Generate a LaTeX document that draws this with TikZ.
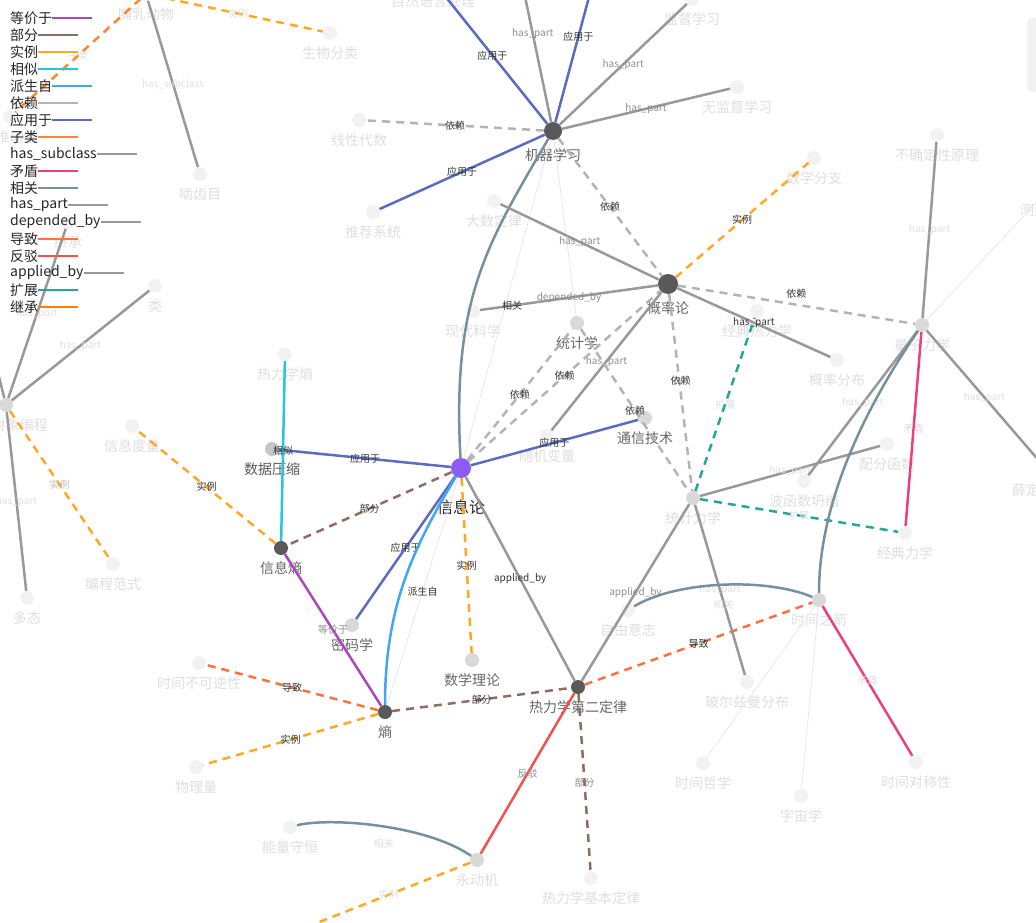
\documentclass[tikz,border=0pt]{standalone}
\usepackage{fontspec}
\setmainfont{Noto Sans CJK SC}

\definecolor{cEquiv}{HTML}{AB47BC}
\definecolor{cPart}{HTML}{8D6E63}
\definecolor{cInst}{HTML}{FFA726}
\definecolor{cSim}{HTML}{26C6DA}
\definecolor{cDeriv}{HTML}{42A5F5}
\definecolor{cDep}{HTML}{B4B4B4}
\definecolor{cApp}{HTML}{5C6BC0}
\definecolor{cSub}{HTML}{FF8533}
\definecolor{cGray}{HTML}{999999}
\definecolor{cContra}{HTML}{EC407A}
\definecolor{cRel}{HTML}{78909C}
\definecolor{cCause}{HTML}{FF7043}
\definecolor{cRefute}{HTML}{EF5350}
\definecolor{cExt}{HTML}{26A69A}
\definecolor{cInher}{HTML}{FF7F0E}
\definecolor{cFaint}{HTML}{E6E6F2}
\definecolor{cHub}{HTML}{595959}
\definecolor{cInfo}{HTML}{8B5CF6}
\definecolor{cLight}{HTML}{D9D9D9}
\definecolor{cFade}{HTML}{F2F2F2}
\definecolor{cFadeText}{HTML}{DEDEDE}
\definecolor{cNodeText}{HTML}{666666}
\definecolor{cEdgeText}{HTML}{333333}

\begin{document}
\begin{tikzpicture}[x=1pt, y=-1pt,
    every node/.style={inner sep=0pt},
    label distance=6pt,
    hub/.style={circle, fill=cHub, minimum size=14pt},
    mid/.style={circle, fill=cLight, minimum size=14pt},
    fade/.style={circle, fill=cFade, minimum size=14pt},
    nl/.style={font=\fontsize{14}{16}\selectfont, text=cNodeText},
    nlf/.style={font=\fontsize{14}{16}\selectfont, text=cFadeText},
    legtext/.style={anchor=west, font=\fontsize{14}{16}\selectfont, text=black!85},
    rline/.style={line width=2.5pt},
    rdash/.style={rline, dash pattern=on 8pt off 6pt},
    rEquiv/.style={rline, cEquiv},
    rPart/.style={rdash, cPart},
    rInst/.style={rdash, cInst},
    rSim/.style={rline, cSim},
    rDeriv/.style={rline, cDeriv},
    rDep/.style={rdash, cDep},
    rApp/.style={rline, cApp},
    rSub/.style={rdash, cSub},
    rGray/.style={rline, cGray},
    rContra/.style={rline, cContra},
    rRel/.style={rline, cRel},
    rCause/.style={rdash, cCause},
    rRefute/.style={rline, cRefute},
    rExt/.style={rdash, cExt},
    rFaint/.style={line width=0.8pt, cFaint},
    el/.style={font=\fontsize{10}{12}\selectfont, text=cEdgeText},
    elm/.style={font=\fontsize{10}{12}\selectfont, text=black!45},
    elf/.style={font=\fontsize{10}{12}\selectfont, text=cFadeText}]

  \useasboundingbox (0,0) rectangle (1036,923);
  \clip (0,0) rectangle (1036,923);
  \fill[cFade, rounded corners=6pt] (1027,18) rectangle (1060,92);

  % main nodes
  \node[circle, fill=cInfo, minimum size=20pt,
    label={[font=\fontsize{16}{18}\selectfont, text=black!85, label distance=21pt]below:信息论}] (xinxi) at (461,468) {};
  \node[hub, minimum size=18pt, label={[nl, label distance=8pt]below:机器学习}] (jiqi) at (553,131) {};
  \node[hub, minimum size=20pt, label={[nl, label distance=7pt]below:概率论}] (gailv) at (668,284) {};
  \node[hub, label={[nl]below:信息熵}] (xxshang) at (281,548) {};
  \node[hub, label={[nl]below:熵}] (shang) at (385,712) {};
  \node[hub, label={[nl]below:热力学第二定律}] (rele2) at (578,687) {};

  \node[mid, label={[nl]below:统计学}] (tongji) at (577,323) {};
  \node[mid, label={[nl]below:通信技术}] (tongxin) at (645,418) {};
  \node[mid, fill=black!22, label={[nl, text=black!65]below:数据压缩}] (shuju) at (272,449) {};
  \node[mid, label={[nl]below:密码学}] (mima) at (352,625) {};
  \node[mid, label={[nl]below:数学理论}] (shuxue) at (472,660) {};
  \node[mid, label={[nlf]below:统计力学}] (tongjili) at (693,498) {};
  \node[mid, label={[nlf]below:量子力学}] (liangzi) at (922,325) {};
  \node[mid, label={[nlf]below:时间之箭}] (shijian) at (819,600) {};
  \node[mid, label={[nlf]below:永动机}] (yongdong) at (477,860) {};
  \node[mid, label={[nlf]below:面向对象编程}] (mianxiang) at (6,405) {};

  % faded nodes
  \node[fade, label={[nlf]below:随机变量}] (suiji) at (547,436) {};
  \node[fade, label={[nlf]below:哺乳动物}] (buru) at (146,-6) {};
  \node[fade, label={[nlf]below:生物分类}] (shengwu) at (330,33) {};
  \node[fade, label={[nlf]below:啮齿目}] (niechi) at (200,174) {};
  \node[fade, label={[nlf]below:脊椎动物}] (jizhui) at (10,117) {};
  \node[fade, label={[nlf]below:线性代数}] (xianxing) at (359,120) {};
  \node[fade, label={[nlf]below:推荐系统}] (tuijian) at (373,212) {};
  \node[fade, label={[nlf]below:大数定律}] (dashu) at (494,201) {};
  \node[fade, label={[nlf]below:无监督学习}] (wujiandu) at (737,87) {};
  \node[fade, label={[nlf]below:监督学习}] (jiandu) at (692,-1) {};
  \node[fade, label={[nlf]below:自然语言处理}] (ziran) at (433,-19) {};
  \node[fade] (offA) at (513,-61) {};
  \node[fade] (offB) at (603,-55) {};
  \node[fade, label={[nlf]below:数学分支}] (shuxuefz) at (814,158) {};
  \node[fade, label={[nlf]below:不确定性原理}] (buqueding) at (937,135) {};
  \node[fade, label={[nlf]below:测量问题}] (celiang) at (1048,190) {};
  \node[fade, label={[nlf]below:现代科学}] (xiandai) at (473,311) {};
  \node[fade, label={[nlf]below:经典热力学}] (jingdianre) at (757,311) {};
  \node[fade, label={[nlf]below:概率分布}] (gailvfb) at (837,360) {};
  \node[fade, label={[nlf]below:配分函数}] (peifen) at (887,444) {};
  \node[fade, label={[nlf]below:波函数坍缩}] (bohanshu) at (804,481) {};
  \node[fade, label={[nlf]below:经典力学}] (jingdianli) at (905,533) {};
  \node[fade, label={[nlf]below:薛定谔方程}] (xueding) at (1047,470) {};
  \node[fade, label={[nlf]below:玻尔兹曼分布}] (boerzi) at (747,682) {};
  \node[fade, label={[nlf]below:自由意志}] (ziyou) at (628,610) {};
  \node[fade, label={[nlf]below:时间哲学}] (zhexue) at (703,763) {};
  \node[fade, label={[nlf]below:宇宙学}] (yuzhou) at (801,796) {};
  \node[fade, label={[nlf]below:时间对称性}] (duichen) at (916,762) {};
  \node[fade, label={[nlf]below:热力学基本定律}] (relijiben) at (591,878) {};
  \node[fade, label={[nlf]below:能量守恒}] (nengliang) at (290,827) {};
  \node[fade] (offC) at (299,930) {};
  \node[fade, label={[nlf]below:物理量}] (wuli) at (196,767) {};
  \node[fade, label={[nlf]below:时间不可逆性}] (bukeni) at (199,663) {};
  \node[fade, label={[nlf]below:信息度量}] (xinxidu) at (132,426) {};
  \node[fade, label={[nlf]below:热力学熵}] (reshang) at (285,354) {};
  \node[fade, label={[nlf]below:类}] (lei) at (155,286) {};
  \node[fade, label={[nlf]below:继承}] (jicheng) at (68,222) {};
  \node[fade, label={[nlf]below:多态}] (duotai) at (27,598) {};
  \node[fade, label={[nlf]below:编程范式}] (fanshi) at (113,564) {};
  \node[fade] (offD) at (-20,300) {};

  % faint links
  \draw[rFaint] (jiqi) -- (xinxi);
  \draw[rFaint] (jiqi) -- (tongji);
  \draw[rFaint] (xinxi) -- (shang);
  \draw[rFaint] (liangzi) -- (celiang);
  \draw[rFaint] (shijian) -- (zhexue);
  \draw[rFaint] (shijian) -- (yuzhou);

  % 机器学习
  \draw[rApp] (jiqi) -- node[el]{应用于} (ziran);
  \draw[rGray] (jiqi) -- node[elm]{has\_part} (offA);
  \draw[rApp] (jiqi) -- node[el]{应用于} (offB);
  \draw[rGray] (jiqi) -- node[elm]{has\_part} (jiandu);
  \draw[rGray] (jiqi) -- node[elm]{has\_part} (wujiandu);
  \draw[rDep] (jiqi) -- node[el]{依赖} (xianxing);
  \draw[rApp] (jiqi) -- node[el]{应用于} (tuijian);
  \draw[rDep] (jiqi) -- node[el]{依赖} (gailv);
  \draw[rRel] (xinxi) .. controls +(-9,-168) and +(-67,114) .. (jiqi);

  % 概率论
  \draw[rGray] (gailv) -- node[elm]{has\_part} (dashu);
  \draw[rGray] (gailv) -- node[elm]{depended\_by} node[el, pos=0.82]{相关} (xiandai);
  \draw[rGray] (gailv) -- node[elm]{has\_part} (suiji);
  \draw[rGray] (gailv) -- node[el]{has\_part} (gailvfb);
  \draw[rDep] (gailv) -- node[el, yshift=11pt]{依赖} (liangzi);
  \draw[rInst] (gailv) -- node[el]{实例} (shuxuefz);
  \draw[rDep] (gailv) -- node[el, yshift=12pt]{依赖} (tongjili);
  \draw[rDep] (tongji) -- node[el]{依赖} (tongjili);

  % 信息论
  \draw[rDep] (xinxi) -- node[el]{依赖} (tongji);
  \draw[rDep] (xinxi) -- node[el]{依赖} (gailv);
  \draw[rApp] (xinxi) -- node[el]{应用于} (shuju);
  \draw[rApp] (xinxi) -- node[el]{应用于} (tongxin);
  \draw[rPart] (xinxi) -- node[el]{部分} (xxshang);
  \draw[rApp] (xinxi) -- node[el]{应用于} (mima);
  \draw[rDeriv] (xinxi) .. controls +(-45,76) and +(0,-110) .. (shang);
  \path (xinxi) -- node[el]{派生自} (shang);
  \draw[rInst] (xinxi) -- node[el]{实例} (shuxue);
  \draw[rGray] (xinxi) -- node[el]{applied\_by} (rele2);

  % 信息熵 and 熵
  \draw[rSim] (xxshang) -- node[el]{相似} (reshang);
  \draw[rInst] (xxshang) -- node[el]{实例} (xinxidu);
  \draw[rEquiv] (xxshang) -- node[elm]{等价于} (shang);
  \draw[rCause] (shang) -- node[el]{导致} (bukeni);
  \draw[rInst] (shang) -- node[el]{实例} (wuli);
  \draw[rPart] (shang) -- node[el]{部分} (rele2);

  % 热力学第二定律
  \draw[rCause] (rele2) -- node[el]{导致} (shijian);
  \draw[rGray] (rele2) -- node[elm]{applied\_by} (tongjili);
  \draw[rRefute] (rele2) -- node[elm]{反驳} (yongdong);
  \draw[rPart] (rele2) -- node[elm]{部分} (relijiben);

  % 统计力学 and 量子力学
  \draw[rGray] (tongjili) -- node[elf]{has\_part} (peifen);
  \draw[rExt] (tongjili) -- node[elf]{扩展} (jingdianre);
  \draw[rExt] (tongjili) -- node[elf]{扩展} (jingdianli);
  \draw[rGray] (tongjili) -- node[elf]{has\_part} (boerzi);
  \draw[rGray] (liangzi) -- node[elf]{has\_part} (buqueding);
  \draw[rGray] (liangzi) -- node[elf]{has\_part} (xueding);
  \draw[rGray] (liangzi) -- node[elf]{has\_part} (bohanshu);
  \draw[rContra] (liangzi) -- node[elf]{矛盾} (jingdianli);
  \draw[rRel] (liangzi) .. controls +(-55,80) and +(0,-100) .. (shijian);

  % 时间之箭 and 永动机
  \draw[rContra] (shijian) -- node[elf]{矛盾} (duichen);
  \draw[rRel] (ziyou) .. controls +(50,-30) and +(-50,-22) .. (shijian);
  \path (ziyou) -- node[elf]{相关} (shijian);
  \draw[rRel] (nengliang) .. controls +(40,-10) and +(-50,-35) .. (yongdong);
  \path (nengliang) -- node[elf]{相关} (yongdong);
  \draw[rInst] (yongdong) -- node[elf]{实例} (offC);

  % 面向对象编程 and 哺乳动物
  \draw[rGray] (mianxiang) -- node[elf]{has\_part} (lei);
  \draw[rGray] (mianxiang) -- node[elf]{has\_part} (jicheng);
  \draw[rGray] (mianxiang) -- node[elf]{has\_part} (duotai);
  \draw[rGray] (mianxiang) -- (offD);
  \draw[rInst] (mianxiang) -- node[elf, text=black!25]{实例} (fanshi);
  \draw[rGray] (buru) -- node[elf]{has\_subclass} (niechi);
  \draw[rInst] (buru) -- node[elf]{实例} (shengwu);
  \draw[rSub] (buru) -- node[elf]{子类} (jizhui);

  % legend
  \foreach \txt/\col [count=\i] in {等价于/cEquiv, 部分/cPart, 实例/cInst, 相似/cSim,
      派生自/cDeriv, 依赖/cDep, 应用于/cApp, 子类/cSub, has\_subclass/cGray,
      矛盾/cContra, 相关/cRel, has\_part/cGray, depended\_by/cGray, 导致/cCause,
      反驳/cRefute, applied\_by/cGray, 扩展/cExt, 继承/cInher}{
    \node[legtext] (leg\i) at (10,{1+17*\i}) {\txt};
    \draw[\col, line width=2pt] (leg\i.east) -- ++(40,0);
  }
\end{tikzpicture}
\end{document}
